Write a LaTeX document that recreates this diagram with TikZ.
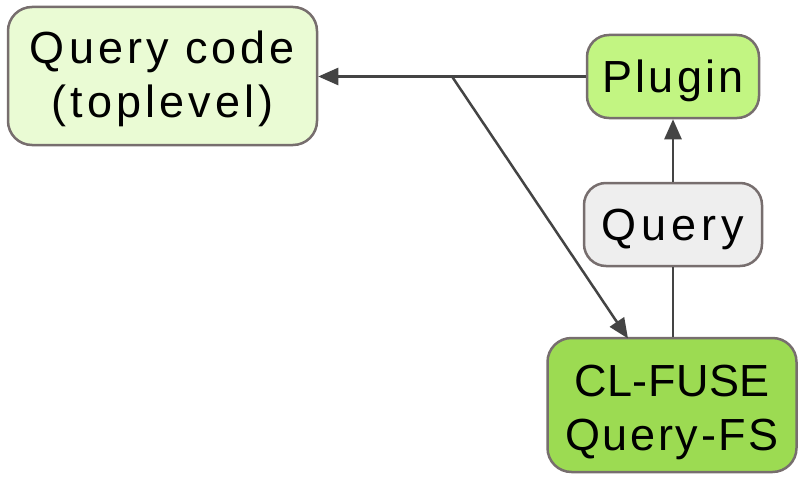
\documentclass[tikz,border=0pt]{standalone}
\usepackage{fontspec}
\setmainfont{Liberation Sans}
\usetikzlibrary{arrows.meta}
\definecolor{bordc}{HTML}{776E6E}
\definecolor{edgec}{HTML}{444444}
\definecolor{fillA}{HTML}{EAFBD4}
\definecolor{fillB}{HTML}{C2F582}
\definecolor{fillC}{HTML}{EEEEEE}
\definecolor{fillD}{HTML}{9CDB52}
\tikzset{
  box/.style={draw=bordc, line width=2.5pt, rounded corners=24pt, inner sep=0pt, align=center,
    font=\fontsize{45}{54}\selectfont},
  oneline/.style={text height=44pt, text depth=12pt, rounded corners=22pt},
  conn/.style={draw=edgec, line width=2.5pt},
  arr/.style={conn, -{Triangle[length=20pt,width=17pt]}},
}
\begin{document}
\begin{tikzpicture}[x=1pt,y=-1pt]
\useasboundingbox (0,0) rectangle (799,476);
\node[box, fill=fillA, minimum width=309pt, minimum height=138pt] (qc) at (162.5,76)
  {\rule{0pt}{41pt}\addfontfeatures{LetterSpace=9}Query code\\\addfontfeatures{LetterSpace=9}(toplevel)\rule[-12pt]{0pt}{12pt}};
\node[box, oneline, fill=fillB, minimum width=172pt, minimum height=83pt] (pl) at (673,76.5)
  {\addfontfeatures{LetterSpace=7}Plugin};
\node[box, oneline, fill=fillC, minimum width=178pt, minimum height=83pt] (q) at (673,224.5)
  {\addfontfeatures{LetterSpace=11}Query};
\node[box, fill=fillD, minimum width=249pt, minimum height=134pt] (cf) at (672,405)
  {\rule{0pt}{48.5pt}\addfontfeatures{LetterSpace=1}CL-FUSE\\\addfontfeatures{LetterSpace=6}Query-FS\rule[-12pt]{0pt}{12pt}};
\coordinate (br) at (452,76.5);
\draw[arr] (pl.west) -- (qc.east |- pl.west);
\draw[arr] (br) -- (628,338.5);
\draw[conn] (cf.north -| q.south) -- (q.south);
\draw[arr] (q.north) -- (pl.south);
\end{tikzpicture}
\end{document}
